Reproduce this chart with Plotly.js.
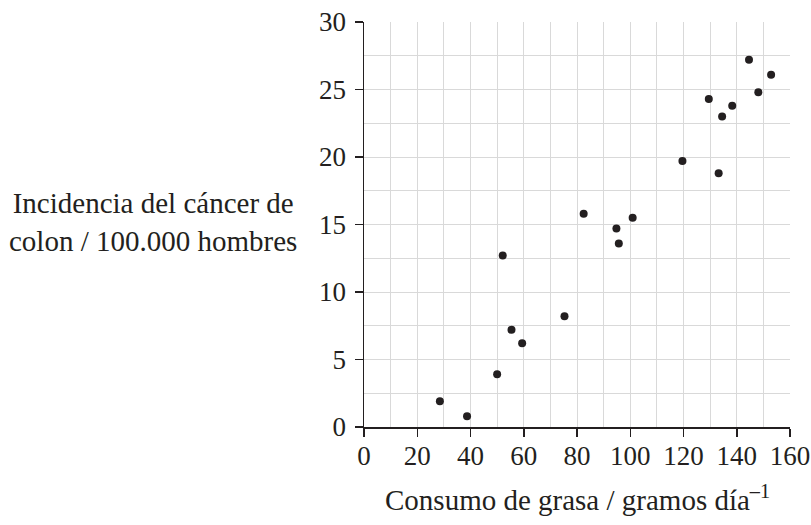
<!DOCTYPE html>
<html>
<head>
<meta charset="utf-8">
<script src="https://cdn.plot.ly/plotly-3.0.1.min.js"></script>
<style>html,body{margin:0;padding:0;background:#fff;}#chart{width:811px;height:525px;}</style>
</head>
<body>
<div id="chart"></div>
<script>
// Fat consumption (g/day) vs colon cancer incidence per 100,000 men
const fatIntake = [28.5, 38.7, 50.0, 52.1, 55.4, 59.4, 75.3, 82.5, 94.8, 95.7, 100.9, 119.6, 133.2, 129.5, 134.5, 138.3, 144.6, 148.1, 152.9];
const incidence = [1.9, 0.8, 3.9, 12.7, 7.2, 6.2, 8.2, 15.8, 14.7, 13.6, 15.5, 19.7, 18.8, 24.3, 23.0, 23.8, 27.2, 24.8, 26.1];
const xTickVals = [0, 20, 40, 60, 80, 100, 120, 140, 160];
const yTickVals = [0, 5, 10, 15, 20, 25, 30];
const xTitle = 'Consumo de grasa / gramos día<sup>–1</sup>';
const yTitleLines = ['Incidencia del cáncer de', 'colon / 100.000 hombres'];

const ink = '#231f20';
const gridC = '#d9d9d9';
const family = 'Liberation Serif, Times New Roman, serif';
const tickFont = {family: family, size: 27, color: ink};
const titleFont = {family: family, size: 29, color: ink};

const trace = {
  x: fatIntake, y: incidence, type: 'scatter', mode: 'markers',
  marker: {size: 8, color: ink}, hoverinfo: 'x+y', showlegend: false
};

const layout = {
  width: 811, height: 525,
  margin: {l: 364, r: 21, t: 22, b: 98},
  paper_bgcolor: '#fff', plot_bgcolor: '#fff',
  font: tickFont,
  xaxis: {
    range: [0, 160], tickvals: xTickVals, ticktext: xTickVals.map(String),
    ticks: 'outside', ticklen: 8, tickwidth: 1.5, tickcolor: ink,
    showline: true, linecolor: ink, linewidth: 1.5, ticklabelstandoff: -4,
    showgrid: true, gridcolor: gridC, gridwidth: 1,
    minor: {dtick: 10, showgrid: true, gridcolor: gridC, gridwidth: 1, ticks: ''},
    zeroline: false, tickfont: tickFont, fixedrange: true
  },
  yaxis: {
    range: [0, 30], tickvals: yTickVals, ticktext: yTickVals.map(String),
    ticks: 'outside', ticklen: 8, tickwidth: 1.5, tickcolor: ink,
    showline: true, linecolor: ink, linewidth: 1.5, ticklabelstandoff: 3,
    showgrid: true, gridcolor: gridC, gridwidth: 1,
    minor: {dtick: 2.5, showgrid: true, gridcolor: gridC, gridwidth: 1, ticks: ''},
    zeroline: false, tickfont: tickFont, fixedrange: true
  },
  annotations: [
    {text: yTitleLines.join('<br>'), xref: 'paper', yref: 'paper', x: -0.495, y: 0.505,
     xanchor: 'center', yanchor: 'middle', showarrow: false, font: titleFont, align: 'center'},
    {text: xTitle, xref: 'paper', yref: 'paper', x: 0.5, y: -0.175,
     xanchor: 'center', yanchor: 'middle', showarrow: false, font: titleFont}
  ]
};

Plotly.newPlot('chart', [trace], layout, {displayModeBar: false, staticPlot: true});
</script>
</body>
</html>
